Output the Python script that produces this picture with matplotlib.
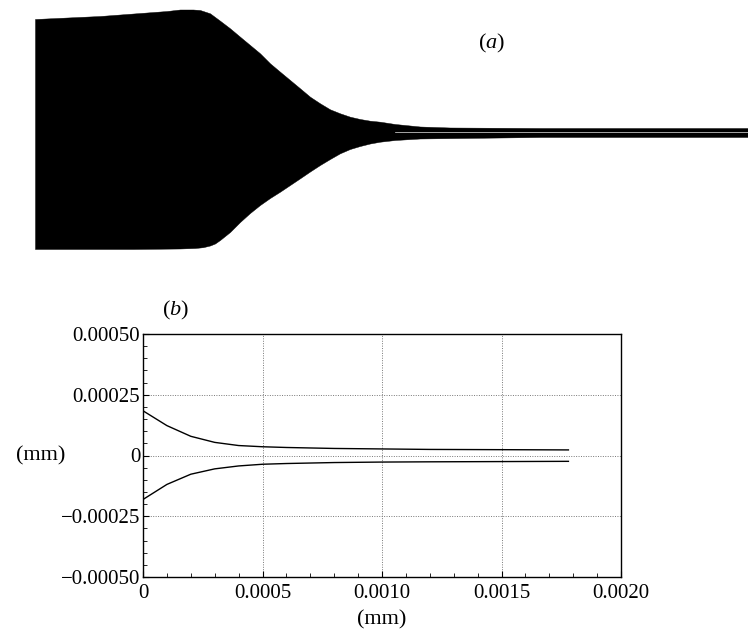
import numpy as np
import matplotlib
matplotlib.use('Agg')
import matplotlib.pyplot as plt
from matplotlib.ticker import FixedLocator, FixedFormatter, MultipleLocator

plt.rcParams['font.family'] = ['Liberation Serif', 'DejaVu Serif']
plt.rcParams['mathtext.fontset'] = 'custom'
plt.rcParams['mathtext.rm'] = 'Liberation Serif'
plt.rcParams['mathtext.it'] = 'Liberation Serif:italic'

# panel (a): envelope of the recorded signal (arbitrary units)
t_up = [0, 65, 132, 145, 158, 165, 175, 185, 195, 205, 215, 225, 235, 245, 255, 265, 275,
        285, 295, 305, 315, 325, 335, 345, 360, 385, 415, 506, 713]
env_up = [114, 117, 122, 123.5, 123.5, 123, 119.7, 112.3, 104.7, 96.3, 88, 79.7, 69.7, 61.3, 53,
          44.7, 36.3, 29.7, 23.7, 19.7, 16.3, 14, 12.3, 11.3, 9, 6.5, 5.5, 5, 5]
t_low = [0, 98, 145, 160, 168, 175, 180, 185, 195, 205, 215, 225, 235, 245, 255, 265, 275, 285,
         295, 305, 315, 325, 335, 345, 360, 385, 506, 713]
env_low = [-116, -116, -115.5, -115, -114.2, -112.5, -110.5, -107, -99, -89, -80, -72, -65, -58.7,
           -52, -45.3, -38.5, -32, -26, -20.3, -16, -13, -10.5, -8.7, -7, -5.5, -4, -4]
t_gap = [360, 713]
gap_level = [1.3, 1.3]

# panel (b): amplitude envelopes
x_b = [0, 0.0001, 0.0002, 0.0003, 0.0004, 0.0005, 0.0006, 0.0007, 0.0008, 0.0010, 0.0012, 0.0015, 0.00178]
upper_b = [0.000184, 0.000123, 0.000079, 0.000054, 0.000041, 0.000036, 0.000033, 0.000031,
           0.000029, 0.000027, 0.000025, 0.000024, 0.000023]
lower_b = [-0.000181, -0.000119, -0.000077, -0.000055, -0.000043, -0.000036, -0.000033, -0.000031,
           -0.000029, -0.000027, -0.000026, -0.000025, -0.000024]

yticks_b = [-0.0005, -0.00025, 0, 0.00025, 0.0005]
ylabels_b = ['\u22120.00050', '\u22120.00025', '0', '0.00025', '0.00050']
xticks_b = [0, 0.0005, 0.0010, 0.0015, 0.0020]
xlabels_b = ['0', '0.0005', '0.0010', '0.0015', '0.0020']

fig = plt.figure(figsize=(7.48, 6.32), dpi=100)

# (a)
ax_a = fig.add_axes([35/748, 1-260/632, 713/748, 260/632])
tt = np.linspace(0, 713, 3000)
ax_a.fill_between(tt, np.interp(tt, t_low, env_low), np.interp(tt, t_up, env_up),
                  color='black', linewidth=0.3, edgecolor='black')
ax_a.plot(t_gap, gap_level, color='#e6e6e6', linewidth=0.5)
ax_a.set_xlim(0, 713)
ax_a.set_ylim(-127, 133)
ax_a.axis('off')
ax_a.text(457, 90, r'($\mathit{a}$)', fontsize=16, ha='center', va='center')

# (b)
ax_b = fig.add_axes([143/748, 1-577/632, 478/748, 243/632])
ax_b.plot(x_b, upper_b, color='black', linewidth=1.0)
ax_b.plot(x_b, lower_b, color='black', linewidth=1.0)
ax_b.set_xlim(0, 0.002)
ax_b.set_ylim(-0.0005, 0.0005)
ax_b.xaxis.set_major_locator(FixedLocator(xticks_b))
ax_b.xaxis.set_major_formatter(FixedFormatter(xlabels_b))
ax_b.yaxis.set_major_locator(FixedLocator(yticks_b))
ax_b.yaxis.set_major_formatter(FixedFormatter(ylabels_b))
ax_b.xaxis.set_minor_locator(MultipleLocator(0.0001))
ax_b.yaxis.set_minor_locator(MultipleLocator(0.00005))
ax_b.tick_params(which='both', direction='in', top=False, right=False, labelsize=15)
ax_b.tick_params(axis='y', pad=2)
ax_b.tick_params(axis='x', pad=5)
ax_b.tick_params(which='major', length=4, width=0.8)
ax_b.tick_params(which='minor', length=3, width=0.6)
ax_b.grid(True, which='major', linestyle=(0, (1, 1.5)), color='#777777', linewidth=0.7)
for s in ax_b.spines.values():
    s.set_linewidth(1.0)
ax_b.set_xlabel('(mm)', fontsize=16, labelpad=5)
ax_b.set_ylabel('(mm)', fontsize=16, rotation=0, va='center', ha='center')
ax_b.yaxis.set_label_coords(-0.2134, 0.5)
ax_b.text(0.069, 1.095, r'($\mathit{b}$)', transform=ax_b.transAxes, fontsize=16, ha='center', va='center')

fig.savefig('out.png', dpi=100)
